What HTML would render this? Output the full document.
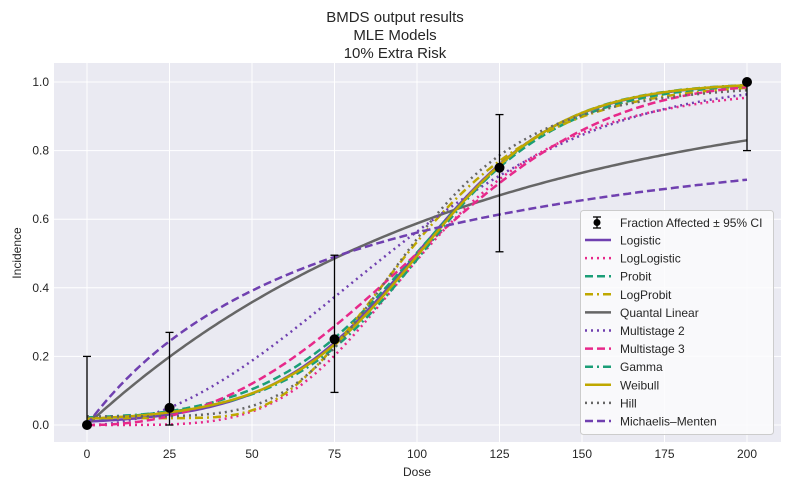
<!DOCTYPE html>
<html><head><meta charset="utf-8"><style>
body{margin:0;background:#fff;}
svg{display:block;font-family:"Liberation Sans",sans-serif;}
</style></head><body>
<svg id="s" width="790" height="490" xmlns="http://www.w3.org/2000/svg">
<rect x="0" y="0" width="790" height="490" fill="#fff"/>
<rect x="54" y="63" width="727" height="379" fill="#eaeaf2"/>
<g id="grid" stroke="#fff" stroke-width="1"></g>
<g id="curves" fill="none" stroke-width="2.5"></g>
<g id="pts"></g>
<g id="ticks" font-size="12" fill="#262626"></g>
<text x="395" y="22" font-size="15" text-anchor="middle" fill="#262626">BMDS output results</text>
<text x="395" y="40" font-size="15" text-anchor="middle" fill="#262626">MLE Models</text>
<text x="395" y="58" font-size="15" text-anchor="middle" fill="#262626">10% Extra Risk</text>
<text x="417" y="476" font-size="12" text-anchor="middle" fill="#262626">Dose</text>
<text x="21" y="253" font-size="12" text-anchor="middle" fill="#262626" transform="rotate(-90 21 253)">Incidence</text>
<g id="legend"></g>
</svg>
<script>
const X=d=>87+d*3.3, Y=v=>425-v*343;
const ns="http://www.w3.org/2000/svg";
function el(p,t,a,txt){const e=document.createElementNS(ns,t);for(const k in a)e.setAttribute(k,a[k]);if(txt!==undefined)e.textContent=txt;document.getElementById(p).appendChild(e);return e;}
for(let d=0;d<=200;d+=25){el("grid","line",{x1:X(d),x2:X(d),y1:63,y2:442});el("ticks","text",{x:X(d),y:458,"text-anchor":"middle"},d);}
for(let v=0;v<=1.001;v+=0.2){el("grid","line",{x1:54,x2:781,y1:Y(v),y2:Y(v)});el("ticks","text",{x:49,y:Y(v)+4,"text-anchor":"end"},v.toFixed(1));}
const P="#7040b0",K="#e7298a",T="#1b9e77",O="#bfa800",G="#666";
function erf(x){const s=x<0?-1:1;x=Math.abs(x);const t=1/(1+0.3275911*x);const y=1-(((((1.061405429*t-1.453152027)*t)+1.421413741)*t-0.284496736)*t+0.254829592)*t*Math.exp(-x*x);return s*y;}
const Phi=z=>0.5*(1+erf(z/Math.SQRT2));
const lg=(g,a,b,x)=>g+(1-g)/(1+Math.exp(-(a+b*x)));
const lgl=(g,a,b,x)=>x<=0?g:g+(1-g)/(1+Math.exp(-(a+b*Math.log(x))));
const lp=(g,a,b,x)=>x<=0?g:g+(1-g)*Phi(a+b*Math.log(x));
const ser=[
["Logistic",P,"",x=>lg(0,-4.6,0.046,x)],
["LogLogistic",K,"2,4",x=>lgl(0,-20.8,4.5,x)],
["Probit",T,"8,4",x=>lg(0.005,-4.4,0.044,x)],
["LogProbit",O,"8,4,2,4",x=>lp(0.02,-13.57,2.96,x)],
["Quantal Linear",G,"",x=>1-Math.exp(-0.00886*x)],
["Multistage 2",P,"2,4",x=>1-Math.exp(-8.3e-5*x*x)],
["Multistage 3",K,"8,4",x=>1-Math.exp(-(3.36e-5*x*x+3.57e-7*x*x*x))],
["Gamma",T,"8,4,2,4",x=>lg(0.015,-4.9,0.048,x)],
["Weibull",O,"",x=>lg(0.01,-4.75,0.047,x)],
["Hill",G,"2,4",x=>lgl(0.025,-23.5,5.13,x)],
["Michaelis–Menten",P,"8,4",x=>0.987*x/(76+x)]
];
ser.forEach(s=>{let d="";for(let x=0;x<=200;x+=1)d+=(x?"L":"M")+X(x).toFixed(1)+","+Y(s[3](x)).toFixed(1);el("curves","path",{d:d,stroke:s[1],"stroke-dasharray":s[2]});});
[[0,0,0,0.2],[25,0.05,0,0.27],[75,0.25,0.095,0.495],[125,0.75,0.505,0.905],[200,1,0.8,1]].forEach(p=>{
el("pts","line",{x1:X(p[0]),x2:X(p[0]),y1:Y(p[2]),y2:Y(p[3]),stroke:"#000","stroke-width":1.3});
[p[2],p[3]].forEach(v=>el("pts","line",{x1:X(p[0])-4,x2:X(p[0])+4,y1:Y(v),y2:Y(v),stroke:"#000","stroke-width":1.3}));
el("pts","circle",{cx:X(p[0]),cy:Y(p[1]),r:5,fill:"#000"});});
el("legend","rect",{x:580.5,y:210.5,width:193,height:224,rx:3,fill:"#fbfbfd","fill-opacity":0.85,stroke:"#ccc"});
el("legend","line",{x1:597,x2:597,y1:217,y2:228,stroke:"#000","stroke-width":1.3});
el("legend","line",{x1:593,x2:601,y1:217,y2:217,stroke:"#000","stroke-width":1.3});
el("legend","line",{x1:593,x2:601,y1:228,y2:228,stroke:"#000","stroke-width":1.3});
el("legend","circle",{cx:597,cy:222.5,r:3.5,fill:"#000"});
el("legend","text",{x:620,y:227,"font-size":12,fill:"#262626"},"Fraction Affected ± 95% CI");
ser.forEach((s,i)=>{const y=240+i*18.1;
el("legend","line",{x1:585,x2:611,y1:y,y2:y,stroke:s[1],"stroke-width":2.5,"stroke-dasharray":s[2]});
el("legend","text",{x:620,y:y+4.5,"font-size":12,fill:"#262626"},s[0]);});
</script>
</body></html>
